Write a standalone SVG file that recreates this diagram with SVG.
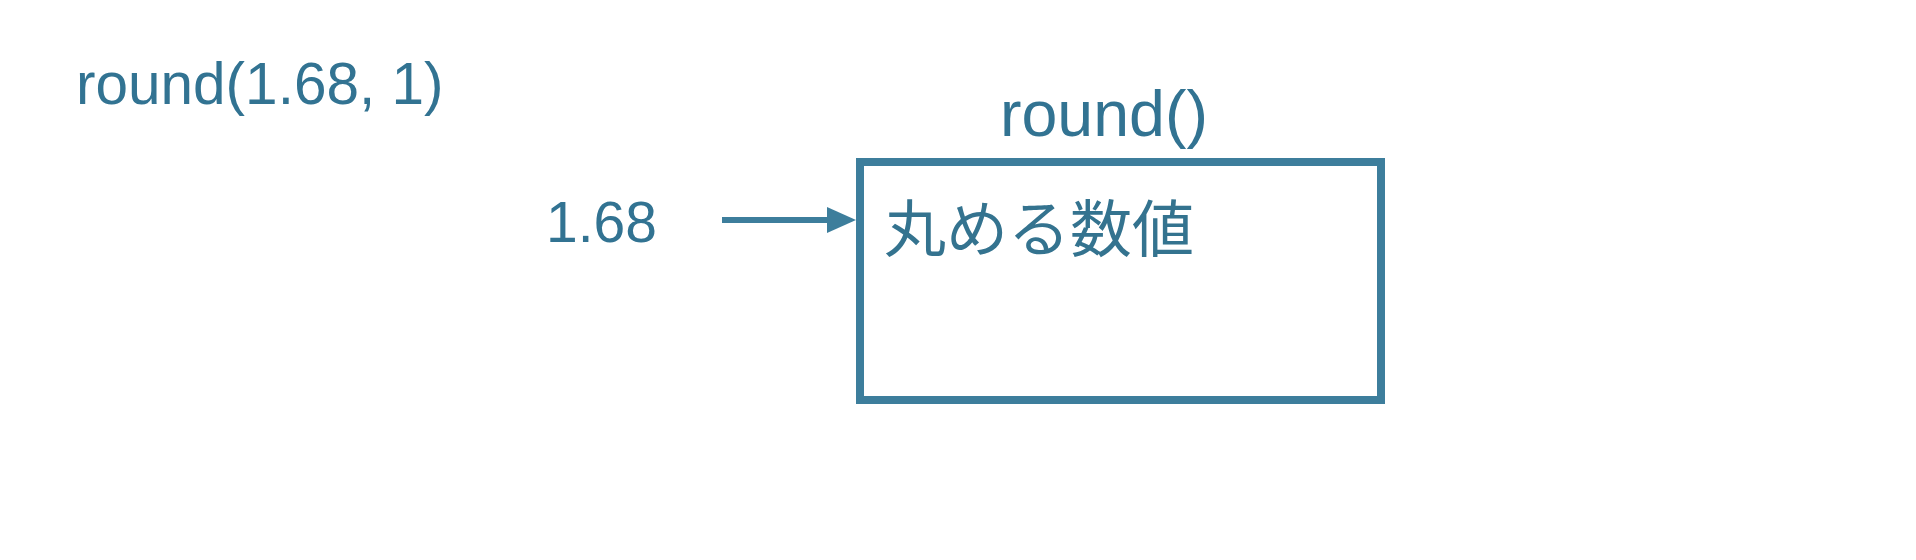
<svg xmlns="http://www.w3.org/2000/svg" width="1916" height="560" viewBox="0 0 1916 560">
<style>
.t{font-family:"Liberation Sans",Arial,sans-serif;fill:#327392}
.j{font-family:"Noto Sans CJK JP","Noto Sans CJK SC",sans-serif;fill:#34738f}
.box{fill:none;stroke:#3d7e9c;stroke-width:8}
.conn{stroke:#3d7e9c;stroke-width:6;fill:none}
</style>
<rect width="1916" height="560" fill="#ffffff"/>
<g id="call-label">
<text class="t" x="76" y="104" font-size="58.5">round(1.68, 1)</text>
</g>
<g id="input-value">
<text class="t" x="546" y="242" font-size="57">1.68</text>
</g>
<g id="round-function">
<text class="t" x="1000" y="136" font-size="64.5">round()</text>
<rect class="box" x="860" y="162" width="521" height="238"/>
<text class="j" x="884" y="252" font-size="62">丸める数値</text>
</g>
<g id="connectors">
<line class="conn" x1="722" y1="220" x2="830" y2="220"/>
<polygon points="827,207 856,220 827,233" fill="#3d7e9c"/>
</g>
</svg>
